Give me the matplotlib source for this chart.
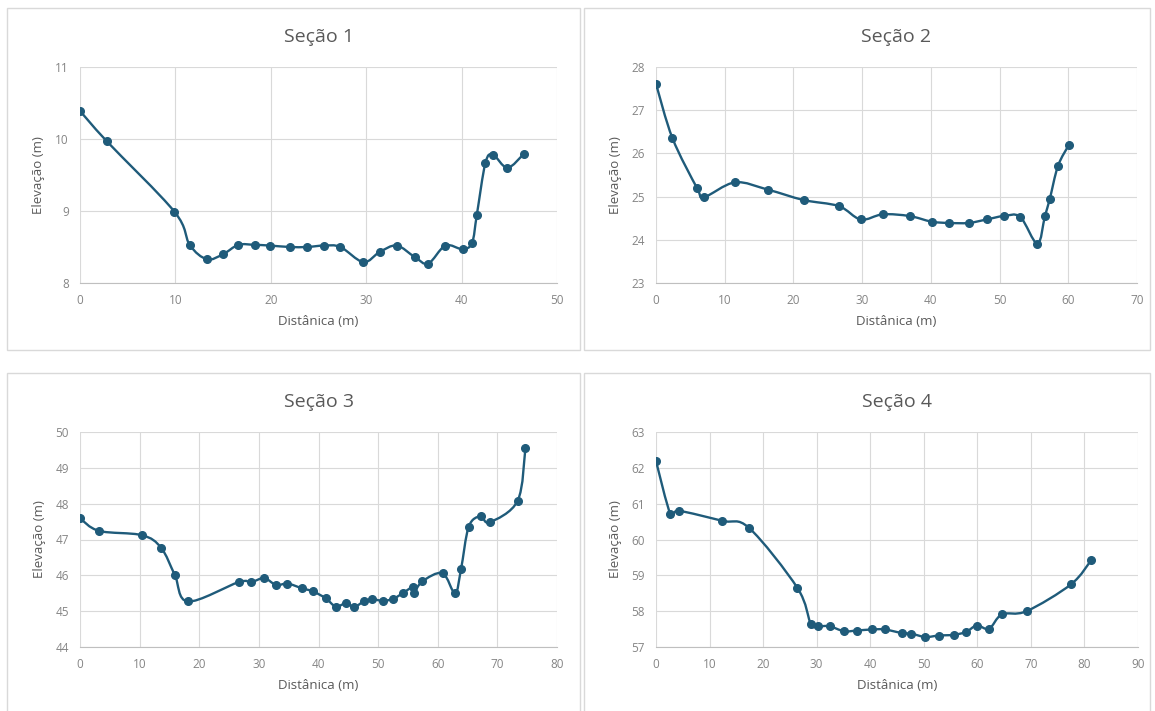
import numpy as np
import matplotlib
matplotlib.use("Agg")
import matplotlib.pyplot as plt
from matplotlib.path import Path
from matplotlib.patches import PathPatch, Rectangle

# Seção 1
dist1 = [0, 2.8, 9.9, 11.5, 13.3, 15.0, 16.6, 18.3, 19.9, 22.0, 23.8, 25.6, 27.3,
         29.7, 31.4, 33.2, 35.1, 36.5, 38.3, 40.1, 41.1, 41.6, 42.5, 43.3, 44.8, 46.5]
elev1 = [10.39, 9.97, 8.99, 8.53, 8.33, 8.40, 8.53, 8.53, 8.52, 8.50, 8.50, 8.52, 8.50,
         8.29, 8.43, 8.52, 8.36, 8.27, 8.52, 8.47, 8.56, 8.95, 9.67, 9.78, 9.60, 9.79]

# Seção 2
dist2 = [0, 2.4, 6.0, 7.0, 11.5, 16.3, 21.5, 26.6, 29.8, 33.0, 36.9, 40.1, 42.6,
         45.5, 48.1, 50.6, 53.0, 55.5, 56.6, 57.3, 58.5, 60.1]
elev2 = [27.61, 26.35, 25.19, 24.99, 25.33, 25.16, 24.92, 24.78, 24.47, 24.59, 24.55,
         24.42, 24.39, 24.39, 24.47, 24.55, 24.53, 23.91, 24.55, 24.94, 25.71, 26.20]

# Seção 3
dist3 = [0, 3.2, 10.4, 13.6, 15.9, 18.1, 26.6, 28.7, 30.9, 32.9, 34.8, 37.2, 39.1,
         41.2, 42.9, 44.6, 46.0, 47.6, 49.0, 50.8, 52.5, 54.2, 55.8, 56.0, 57.4,
         60.8, 62.9, 63.9, 65.2, 67.2, 68.7, 73.4, 74.7]
elev3 = [47.59, 47.24, 47.12, 46.77, 46.01, 45.27, 45.81, 45.81, 45.92, 45.73, 45.77,
         45.64, 45.55, 45.36, 45.13, 45.22, 45.12, 45.27, 45.33, 45.29, 45.34, 45.51,
         45.67, 45.50, 45.83, 46.06, 45.50, 46.17, 47.36, 47.65, 47.48, 48.08, 49.54]

# Seção 4
dist4 = [0, 2.7, 4.3, 12.4, 17.4, 26.4, 28.9, 30.3, 32.4, 35.1, 37.5, 40.4, 42.7,
         45.9, 47.7, 50.3, 52.8, 55.6, 57.9, 59.9, 62.2, 64.6, 69.2, 77.5, 81.3]
elev4 = [62.19, 60.71, 60.80, 60.52, 60.32, 58.65, 57.65, 57.58, 57.58, 57.44, 57.46,
         57.49, 57.49, 57.39, 57.37, 57.28, 57.32, 57.34, 57.42, 57.60, 57.51, 57.91,
         58.00, 58.75, 59.43]

titles = ["Seção 1", "Seção 2", "Seção 3", "Seção 4"]
xlims = [(0, 50), (0, 70), (0, 80), (0, 90)]
ylims = [(8, 11), (23, 28), (44, 50), (57, 63)]
series = [(dist1, elev1), (dist2, elev2), (dist3, elev3), (dist4, elev4)]

W, H = 1155, 711
# chart boxes and plot areas in pixels (left, top, right, bottom)
boxes = [(7, 8, 580, 350), (584, 8, 1150, 350), (7, 373, 580, 720), (584, 373, 1150, 720)]
areas = [(80, 67, 557, 283), (656, 67, 1137, 283), (80, 432, 557, 647), (656, 432, 1138, 647)]

line_col = "#1f5b7a"
text_col = "#595959"
grid_col = "#d9d9d9"

plt.rcParams['font.family'] = ['Open Sans', 'DejaVu Sans']

fig = plt.figure(figsize=(W / 100, H / 100), dpi=100)
fig.patch.set_facecolor("white")


def smooth_path(x, y):
    # Excel-style smoothed line: cubic Bezier through every point
    pts = np.column_stack([x, y]).astype(float)
    n = len(pts)
    verts = [pts[0]]
    codes = [Path.MOVETO]
    for i in range(n - 1):
        p0 = pts[i - 1] if i > 0 else pts[i]
        p1 = pts[i]
        p2 = pts[i + 1]
        p3 = pts[i + 2] if i + 2 < n else pts[i + 1]
        dx = p2[0] - p1[0]
        t1 = (p2 - p0) / 6
        t2 = (p3 - p1) / 6
        # keep control points inside the segment so the curve does not loop back
        if t1[0] > dx:
            t1 = t1 * dx / t1[0]
        if t2[0] > dx:
            t2 = t2 * dx / t2[0]
        verts += [p1 + t1, p2 - t2, p2]
        codes += [Path.CURVE4] * 3
    return Path(verts, codes)


for k in range(4):
    bl, bt, br, bb = boxes[k]
    fig.patches.append(Rectangle((bl / W, 1 - bb / H), (br - bl) / W, (bb - bt) / H,
                                 transform=fig.transFigure, fill=False,
                                 edgecolor="#d9d9d9", linewidth=1.0))
    l, t, r, b = areas[k]
    ax = fig.add_axes([l / W, 1 - b / H, (r - l) / W, (b - t) / H])
    x, y = series[k]
    ax.add_patch(PathPatch(smooth_path(x, y), fill=False, edgecolor=line_col,
                           linewidth=1.7, zorder=3))
    ax.plot(x, y, linestyle="none", marker="o", markersize=5.5, color=line_col, zorder=4)
    ax.set_xlim(*xlims[k])
    ax.set_ylim(*ylims[k])
    ax.set_xticks(np.arange(xlims[k][0], xlims[k][1] + 1, 10))
    ax.set_yticks(np.arange(ylims[k][0], ylims[k][1] + 1, 1))
    ax.grid(True, color=grid_col, linewidth=0.8)
    ax.set_axisbelow(True)
    for s in ["top", "right", "left"]:
        ax.spines[s].set_visible(False)
    ax.spines["bottom"].set_color("#bfbfbf")
    ax.tick_params(length=0, labelsize=8.5, colors="#858585", pad=8)
    ax.set_xlabel("Distânica (m)", fontsize=9.5, color=text_col, labelpad=6)
    ax.set_ylabel("Elevação (m)", fontsize=9.5, color=text_col, labelpad=7)
    ax.set_title(titles[k], fontsize=14, color=text_col, pad=18)

plt.savefig("out.png", dpi=100, facecolor="white")
